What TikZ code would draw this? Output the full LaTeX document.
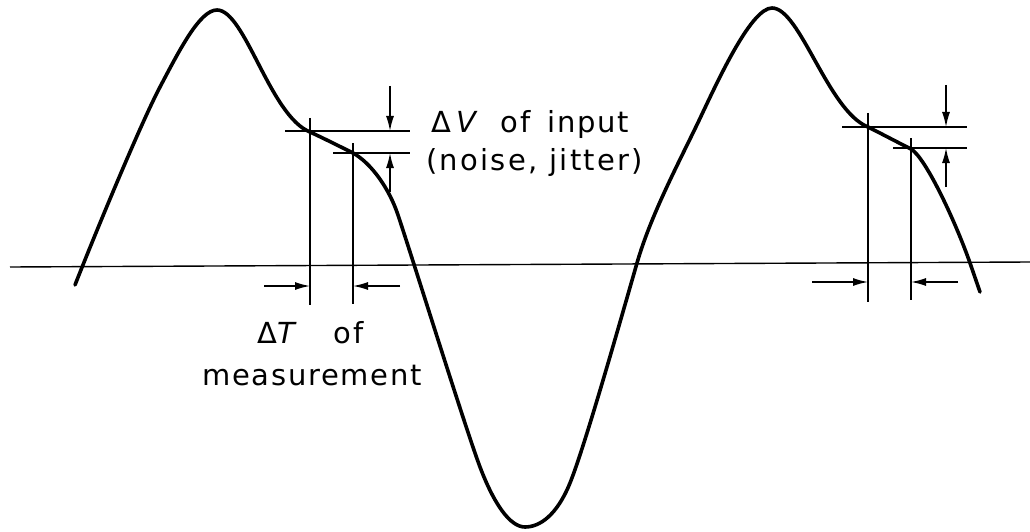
\documentclass[tikz,border=0pt]{standalone}
\usepackage{fontspec}
\setmainfont{DejaVu Sans}[LetterSpace=6]
\usetikzlibrary{arrows.meta}
\tikzset{
  wave/.style={line width=3.6pt, line join=round, line cap=round},
  thin/.style={line width=1.4pt},
  dimarrow/.style={line width=1.4pt, -{Latex[length=15pt,width=8pt]}},
  lbl/.style={inner sep=0pt, anchor=base west, font=\fontsize{29pt}{34pt}\selectfont}
}
\begin{document}
\begin{tikzpicture}[x=1pt,y=-1pt]
\useasboundingbox (0,0) rectangle (1030,532);
% axis
\coordinate (axL) at (10,267);
\coordinate (axR) at (1030,262);
\draw[thin] (axL) -- (axR);
% waveform
\coordinate (w0) at (75,285);
\coordinate (w1) at (160,87);
\coordinate (pk1) at (217,10);
\coordinate (s1) at (310,132);
\coordinate (s2) at (353,153);
\coordinate (w2) at (398,215);
\coordinate (w3) at (480,467);
\coordinate (tr) at (525,527);
\coordinate (w4) at (570,483);
\coordinate (w5) at (637,263);
\coordinate (w6) at (703,112);
\coordinate (pk2) at (772,8);
\coordinate (t1) at (868,127);
\coordinate (t2) at (911,149);
\coordinate (w7) at (970,263);
\coordinate (w8) at (980,292);
\draw[wave] (w0) .. controls (95,234) and (140,125) .. (w1)
  .. controls (180,49) and (200,10) .. (pk1)
  .. controls (245,10) and (270,116) .. (s1)
  .. controls (325,139) and (339,146) .. (s2)
  .. controls (371,163) and (389,188) .. (w2)
  .. controls (414,263) and (466,430) .. (w3)
  .. controls (494,504) and (510,527) .. (tr)
  .. controls (540,527) and (557,515) .. (w4)
  .. controls (585,446) and (622,315) .. (w5)
  .. controls (652,211) and (683,155) .. (w6)
  .. controls (721,74) and (752,8) .. (pk2)
  .. controls (800,8) and (828,111) .. (t1)
  .. controls (882,134) and (897,142) .. (t2)
  .. controls (926,158) and (956,223) .. (w7)
  -- (w8);
% left measurement
\coordinate (h1s) at (285,131);
\coordinate (h1e) at (410,131);
\coordinate (h2s) at (333,153);
\coordinate (h2e) at (410,153);
\draw[thin] (h1s) -- (h1e);
\draw[thin] (h2s) -- (h2e);
\coordinate (v1t) at (310,118);
\coordinate (v1b) at (310,305);
\coordinate (v2t) at (353,143);
\coordinate (v2b) at (353,304);
\draw[thin] (v1t) -- (v1b);
\draw[thin] (v2t) -- (v2b);
\coordinate (dvA) at (390,86);
\coordinate (dvAe) at (390,131);
\coordinate (dvB) at (390,192);
\coordinate (dvBe) at (390,153);
\draw[dimarrow] (dvA) -- (dvAe);
\draw[dimarrow] (dvB) -- (dvBe);
\coordinate (dtA) at (264,286);
\coordinate (dtAe) at (310,286);
\coordinate (dtB) at (400,286);
\coordinate (dtBe) at (353,286);
\draw[dimarrow] (dtA) -- (dtAe);
\draw[dimarrow] (dtB) -- (dtBe);
% right measurement
\coordinate (r1s) at (842,127);
\coordinate (r1e) at (967,127);
\coordinate (r2s) at (893,148);
\coordinate (r2e) at (967,148);
\draw[thin] (r1s) -- (r1e);
\draw[thin] (r2s) -- (r2e);
\coordinate (rv1t) at (868,113);
\coordinate (rv1b) at (868,302);
\coordinate (rv2t) at (911,138);
\coordinate (rv2b) at (911,300);
\draw[thin] (rv1t) -- (rv1b);
\draw[thin] (rv2t) -- (rv2b);
\coordinate (rdvA) at (946,85);
\coordinate (rdvAe) at (946,127);
\coordinate (rdvB) at (946,187);
\coordinate (rdvBe) at (946,148);
\draw[dimarrow] (rdvA) -- (rdvAe);
\draw[dimarrow] (rdvB) -- (rdvBe);
\coordinate (rdtA) at (812,282);
\coordinate (rdtAe) at (868,282);
\coordinate (rdtB) at (958,282);
\coordinate (rdtBe) at (911,282);
\draw[dimarrow] (rdtA) -- (rdtAe);
\draw[dimarrow] (rdtB) -- (rdtBe);
% labels
\node[lbl] (dv) at (431,132) {Δ\hspace{5pt}{\itshape V}\hspace{25pt}of\hspace{17pt}input};
\node[lbl] (nj) at (426,170) {\addfontfeature{LetterSpace=8}(noise, jitter)};
\node[lbl] (dt) at (257,343) {Δ{\itshape T}\hspace{39pt}of};
\node[lbl] (ms) at (202,385) {measurement};
\end{tikzpicture}
\end{document}
